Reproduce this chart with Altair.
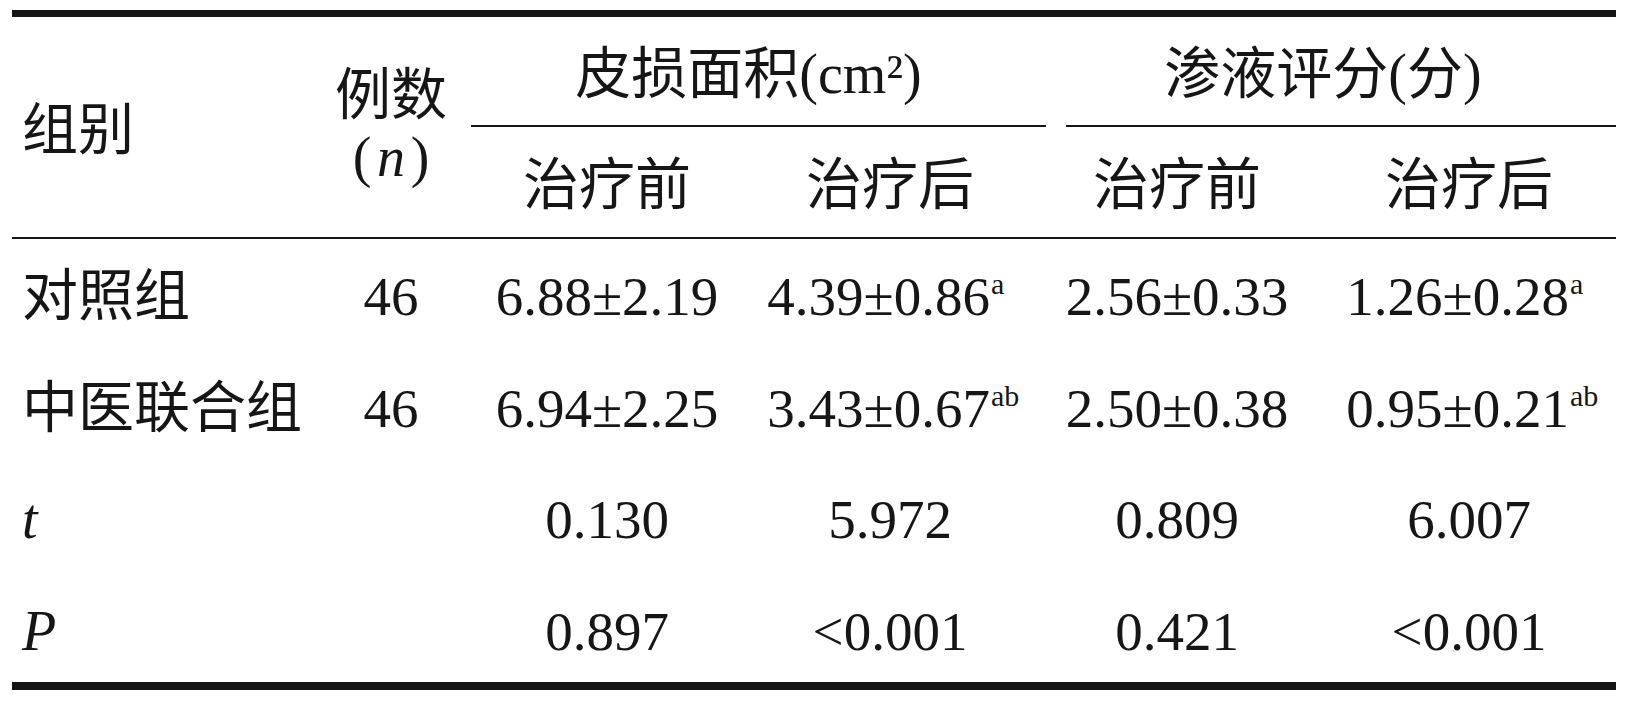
import altair as alt
import pandas as pd

# ---------------- data ----------------
groups = ["对照组", "中医联合组"]
n_counts = [46, 46]
area_before_mean = [6.88, 6.94]
area_before_sd = [2.19, 2.25]
area_after_mean = [4.39, 3.43]
area_after_sd = [0.86, 0.67]
area_after_sup = ["a", "ab"]
exud_before_mean = [2.56, 2.50]
exud_before_sd = [0.33, 0.38]
exud_after_mean = [1.26, 0.95]
exud_after_sd = [0.28, 0.21]
exud_after_sup = ["a", "ab"]
t_values = ["0.130", "5.972", "0.809", "6.007"]
p_values = ["0.897", "<0.001", "0.421", "<0.001"]

group_headers = ["皮损面积(cm²)", "渗液评分(分)"]
sub_headers = ["治疗前", "治疗后", "治疗前", "治疗后"]
label_group = "组别"
label_n = "例数"

# ---------------- table structure (cell indices) ----------------
def fmt(m, s):
    return f"{m:.2f}±{s:.2f}"

plain_rows = []   # centred plain text cells
sup_main = []     # cells followed by a superscript
for i in range(2):
    r = 2 + i
    plain_rows.append({"col": 1, "row": r, "label": str(n_counts[i])})
    plain_rows.append({"col": 2, "row": r, "label": fmt(area_before_mean[i], area_before_sd[i])})
    plain_rows.append({"col": 4, "row": r, "label": fmt(exud_before_mean[i], exud_before_sd[i])})
    sup_main.append({"col": 3, "row": r, "label": fmt(area_after_mean[i], area_after_sd[i]), "sup": area_after_sup[i]})
    sup_main.append({"col": 5, "row": r, "label": fmt(exud_after_mean[i], exud_after_sd[i]), "sup": exud_after_sup[i]})
for j in range(4):
    plain_rows.append({"col": 2 + j, "row": 4, "label": t_values[j]})
    plain_rows.append({"col": 2 + j, "row": 5, "label": p_values[j]})

header_cells = [
    {"col": 2.5, "row": 0, "label": group_headers[0]},
    {"col": 4.5, "row": 0, "label": group_headers[1]},
    {"col": 1, "row": 0.19, "label": label_n},
] + [{"col": 2 + j, "row": 1, "label": sub_headers[j]} for j in range(4)]

left_cells = [
    {"col": 0, "row": 0.5, "label": label_group},
    {"col": 0, "row": 2, "label": groups[0]},
    {"col": 0, "row": 3, "label": groups[1]},
]
italic_left = [
    {"col": 0, "row": 4, "label": "t"},
    {"col": 0, "row": 5, "label": "P"},
]

df_plain = pd.DataFrame(plain_rows)
df_sup = pd.DataFrame(sup_main)
df_head = pd.DataFrame(header_cells)
df_left = pd.DataFrame(left_cells)
df_ital = pd.DataFrame(italic_left)
df_n = pd.DataFrame([{"col": 1, "row": 0.745, "label": "n"}])
df_paren = pd.DataFrame([{"col": 1, "row": 0.745}])

# ---------------- scales ----------------
X = alt.X("col:Q", axis=None,
          scale=alt.Scale(domain=[0, 1, 2, 3, 4, 5],
                          range=[14, 383, 599, 882, 1169, 1461],
                          nice=False, zero=False))
Y = alt.Y("row:Q", axis=None,
          scale=alt.Scale(domain=[0, 1, 2, 3, 4, 5],
                          range=[85, 196, 307, 419, 530, 642],
                          nice=False, zero=False))

INK = "#161616"
SERIF = "Liberation Serif, Noto Sans CJK SC"
CJK = "Noto Sans CJK SC"

def txt(df, **kw):
    base = dict(baseline="alphabetic", color=INK)
    base.update(kw)
    return alt.Chart(df).mark_text(**base).encode(x=X, y=Y, text="label:N")

layers = [
    txt(df_plain, align="center", font=SERIF, fontSize=55),
    txt(df_sup, align="right", dx=100, font=SERIF, fontSize=55),
    alt.Chart(df_sup).mark_text(align="left", baseline="alphabetic", dx=101, dy=-21,
                                font=SERIF, fontSize=30, color=INK)
        .encode(x=X, y=Y, text="sup:N"),
    txt(df_head, align="center", font=SERIF, fontSize=56),
    txt(df_left, align="left", font=CJK, fontSize=56),
    txt(df_ital, align="left", font="Liberation Serif", fontSize=56, fontStyle="italic"),
    txt(df_n, align="center", font="Liberation Serif", fontSize=56, fontStyle="italic"),
    alt.Chart(df_paren).mark_text(text="(", align="center", baseline="alphabetic", dx=-29,
                                  font="Liberation Serif", fontSize=56, color=INK).encode(x=X, y=Y),
    alt.Chart(df_paren).mark_text(text=")", align="center", baseline="alphabetic", dx=29,
                                  font="Liberation Serif", fontSize=56, color=INK).encode(x=X, y=Y),
]

# table rules
def hrule(x1, x2, y, w):
    return alt.Chart(pd.DataFrame({"k": [0]})).mark_rule(color=INK, strokeWidth=w).encode(
        x=alt.value(x1), x2=alt.value(x2), y=alt.value(y))

rules = [
    hrule(4, 1608, 5.5, 7),
    hrule(463, 1038, 118, 2),
    hrule(1058, 1608, 118, 2),
    hrule(4, 1608, 230, 2),
    hrule(4, 1608, 678, 8),
]

chart = alt.layer(*rules, *layers).properties(
    width=1612, height=685, padding=0,
    autosize=alt.AutoSizeParams(type="none"),
    background="white",
).configure_view(strokeWidth=0)

chart.save("out.html", embed_options={"renderer": "svg", "actions": False})
